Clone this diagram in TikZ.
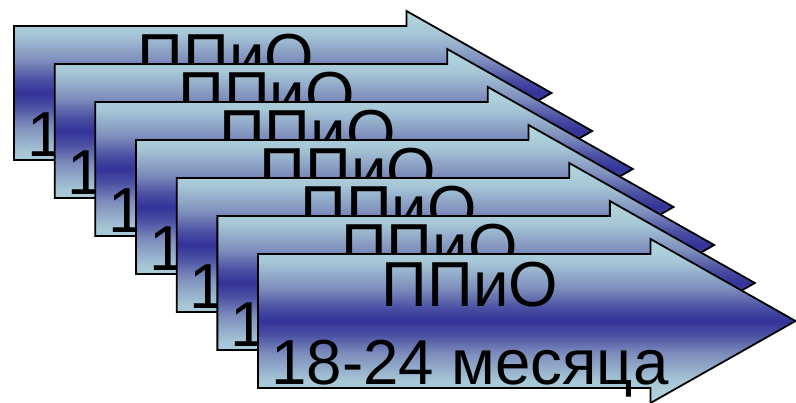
\documentclass[tikz,border=0pt]{standalone}
\usepackage{fontspec}
\setmainfont{Liberation Sans}
\definecolor{lightblue}{HTML}{B3D9DF}
\definecolor{paleblue}{HTML}{A6C6D6}
\definecolor{greyblue}{HTML}{7E8EBC}
\definecolor{deepblue}{HTML}{4A4FA3}
\definecolor{darkblue}{HTML}{333399}
\pgfdeclareverticalshading{arrowband}{100bp}{%
  color(0bp)=(lightblue); color(25bp)=(lightblue); color(32bp)=(paleblue);
  color(40bp)=(greyblue); color(46bp)=(deepblue); color(50bp)=(darkblue);
  color(54bp)=(deepblue); color(60bp)=(greyblue); color(68bp)=(paleblue);
  color(75bp)=(lightblue); color(100bp)=(lightblue)}
\tikzset{
  arrowshape/.style={draw=black, line width=1.8pt, line join=miter, shading=arrowband},
  arrowtext/.style={font=\fontsize{63.6pt}{78pt}\selectfont, text=black, inner sep=0pt, anchor=base}
}
\begin{document}
\begin{tikzpicture}[x=1pt,y=-1pt]
\useasboundingbox (0,0) rectangle (796,403);
\foreach \i in {0,...,6}{
  \pgfmathsetmacro{\xo}{14+40.67*\i}
  \pgfmathsetmacro{\yo}{26+38*\i}
  \path[arrowshape] (\xo,\yo) -- ++(392.5,0) -- ++(0,-15) -- ++(145,82) -- ++(-145,82) -- ++(0,-15) -- ++(-392.5,0) -- cycle;
  \node[arrowtext] (ttl\i) at (\xo+212,\yo+53) {ППиО};
  \node[arrowtext] (sub\i) at (\xo+212,\yo+131) {18-24 месяца};
}
\end{tikzpicture}
\end{document}
